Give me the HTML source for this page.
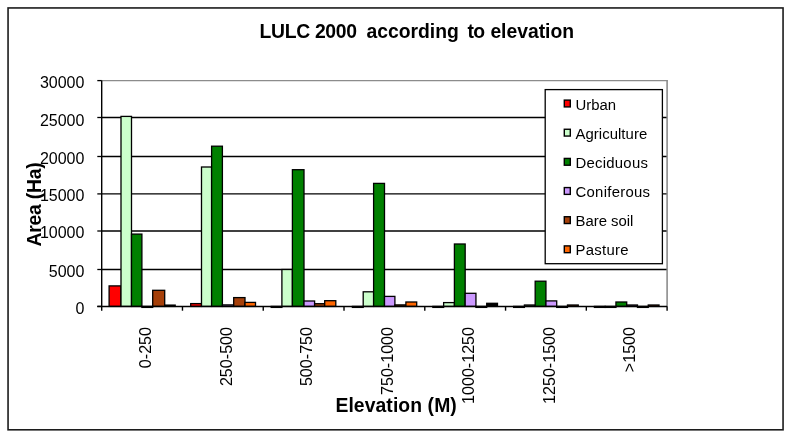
<!DOCTYPE html>
<html><head><meta charset="utf-8"><title>LULC 2000 according to elevation</title>
<style>
html,body{margin:0;padding:0;background:#fff;}
svg text{font-family:"Liberation Sans",Arial,Helvetica,sans-serif;fill:#000;}
.t{font-size:16px;}
.x{font-size:16.1px;}
.l{font-size:14.9px;}
.b{font-size:19.35px;font-weight:bold;}
</style></head><body>
<svg width="791" height="438" viewBox="0 0 791 438" style="display:block">
<rect x="0" y="0" width="791" height="438" fill="#fff"/>
<rect x="8.05" y="7.95" width="775" height="421.85" fill="#fff" stroke="#1c1c1c" stroke-width="1.6"/>
<line x1="101.7" x2="667.9" y1="80.69999999999999" y2="80.69999999999999" stroke="#8c8c8c" stroke-width="1.2"/>
<line x1="667.1" x2="667.1" y1="80.6" y2="307.09999999999997" stroke="#8c8c8c" stroke-width="1.6"/>
<line x1="101.7" x2="666.5" y1="269.50" y2="269.50" stroke="#000" stroke-width="1.35"/>
<line x1="101.7" x2="666.5" y1="231.00" y2="231.00" stroke="#000" stroke-width="1.35"/>
<line x1="101.7" x2="666.5" y1="193.90" y2="193.90" stroke="#000" stroke-width="1.35"/>
<line x1="101.7" x2="666.5" y1="156.50" y2="156.50" stroke="#000" stroke-width="1.35"/>
<line x1="101.7" x2="666.5" y1="117.50" y2="117.50" stroke="#000" stroke-width="1.35"/>
<rect x="109.10" y="285.90" width="11.90" height="20.50" fill="#ff0000" stroke="#000" stroke-width="1.3"/>
<rect x="121.00" y="116.40" width="10.50" height="190.00" fill="#ccffcc" stroke="#000" stroke-width="1.3"/>
<rect x="131.50" y="234.10" width="10.40" height="72.30" fill="#008000" stroke="#000" stroke-width="1.3"/>
<rect x="141.90" y="306.40" width="10.80" height="1.00" fill="#cc99ff" stroke="#000" stroke-width="1.3"/>
<rect x="152.70" y="290.30" width="12.00" height="16.10" fill="#a6400a" stroke="#000" stroke-width="1.3"/>
<rect x="164.70" y="305.10" width="10.50" height="1.30" fill="#ff6600" stroke="#000" stroke-width="1.3"/>
<rect x="190.70" y="303.60" width="10.80" height="2.80" fill="#ff0000" stroke="#000" stroke-width="1.3"/>
<rect x="201.50" y="167.00" width="10.10" height="139.40" fill="#ccffcc" stroke="#000" stroke-width="1.3"/>
<rect x="211.60" y="146.20" width="10.80" height="160.20" fill="#008000" stroke="#000" stroke-width="1.3"/>
<rect x="222.40" y="304.90" width="11.30" height="1.50" fill="#cc99ff" stroke="#000" stroke-width="1.3"/>
<rect x="233.70" y="297.60" width="11.30" height="8.80" fill="#a6400a" stroke="#000" stroke-width="1.3"/>
<rect x="245.00" y="302.40" width="10.50" height="4.00" fill="#ff6600" stroke="#000" stroke-width="1.3"/>
<rect x="271.20" y="306.40" width="10.70" height="1.00" fill="#ff0000" stroke="#000" stroke-width="1.3"/>
<rect x="281.90" y="269.50" width="10.50" height="36.90" fill="#ccffcc" stroke="#000" stroke-width="1.3"/>
<rect x="292.40" y="169.70" width="11.60" height="136.70" fill="#008000" stroke="#000" stroke-width="1.3"/>
<rect x="304.00" y="301.00" width="10.60" height="5.40" fill="#cc99ff" stroke="#000" stroke-width="1.3"/>
<rect x="314.60" y="303.70" width="10.10" height="2.70" fill="#a6400a" stroke="#000" stroke-width="1.3"/>
<rect x="324.70" y="300.70" width="11.10" height="5.70" fill="#ff6600" stroke="#000" stroke-width="1.3"/>
<rect x="352.40" y="306.40" width="10.80" height="1.00" fill="#ff0000" stroke="#000" stroke-width="1.3"/>
<rect x="363.20" y="291.80" width="10.40" height="14.60" fill="#ccffcc" stroke="#000" stroke-width="1.3"/>
<rect x="373.60" y="183.40" width="10.90" height="123.00" fill="#008000" stroke="#000" stroke-width="1.3"/>
<rect x="384.50" y="296.40" width="10.40" height="10.00" fill="#cc99ff" stroke="#000" stroke-width="1.3"/>
<rect x="394.90" y="304.90" width="11.00" height="1.50" fill="#a6400a" stroke="#000" stroke-width="1.3"/>
<rect x="405.90" y="302.00" width="10.80" height="4.40" fill="#ff6600" stroke="#000" stroke-width="1.3"/>
<rect x="432.86" y="306.40" width="10.77" height="1.00" fill="#ff0000" stroke="#000" stroke-width="1.3"/>
<rect x="443.63" y="302.60" width="10.77" height="3.80" fill="#ccffcc" stroke="#000" stroke-width="1.3"/>
<rect x="454.40" y="244.00" width="10.77" height="62.40" fill="#008000" stroke="#000" stroke-width="1.3"/>
<rect x="465.17" y="293.30" width="10.77" height="13.10" fill="#cc99ff" stroke="#000" stroke-width="1.3"/>
<rect x="475.94" y="306.40" width="10.77" height="1.00" fill="#a6400a" stroke="#000" stroke-width="1.3"/>
<rect x="486.71" y="303.30" width="10.77" height="3.10" fill="#000" stroke="#000" stroke-width="1.3"/>
<rect x="513.63" y="306.40" width="10.77" height="1.00" fill="#ff0000" stroke="#000" stroke-width="1.3"/>
<rect x="524.40" y="305.00" width="10.77" height="1.40" fill="#ccffcc" stroke="#000" stroke-width="1.3"/>
<rect x="535.17" y="281.20" width="10.77" height="25.20" fill="#008000" stroke="#000" stroke-width="1.3"/>
<rect x="545.94" y="300.90" width="10.77" height="5.50" fill="#cc99ff" stroke="#000" stroke-width="1.3"/>
<rect x="556.71" y="306.40" width="10.77" height="1.00" fill="#a6400a" stroke="#000" stroke-width="1.3"/>
<rect x="567.48" y="305.00" width="10.77" height="1.40" fill="#ff6600" stroke="#000" stroke-width="1.3"/>
<rect x="594.41" y="306.40" width="10.77" height="1.00" fill="#ff0000" stroke="#000" stroke-width="1.3"/>
<rect x="605.18" y="306.40" width="10.77" height="1.00" fill="#ccffcc" stroke="#000" stroke-width="1.3"/>
<rect x="615.94" y="302.00" width="10.77" height="4.40" fill="#008000" stroke="#000" stroke-width="1.3"/>
<rect x="626.71" y="305.00" width="10.77" height="1.40" fill="#cc99ff" stroke="#000" stroke-width="1.3"/>
<rect x="637.48" y="306.40" width="10.77" height="1.00" fill="#a6400a" stroke="#000" stroke-width="1.3"/>
<rect x="648.25" y="305.00" width="10.77" height="1.40" fill="#ff6600" stroke="#000" stroke-width="1.3"/>
<line x1="101.7" x2="101.7" y1="80.6" y2="310.7" stroke="#000" stroke-width="1.4"/>
<line x1="97.3" x2="667.1" y1="306.4" y2="306.4" stroke="#000" stroke-width="1.5"/>
<line x1="97.3" x2="101.7" y1="306.40" y2="306.40" stroke="#000" stroke-width="1.3"/>
<text x="84.4" y="314.10" text-anchor="end" class="t">0</text>
<line x1="97.3" x2="101.7" y1="269.50" y2="269.50" stroke="#000" stroke-width="1.3"/>
<text x="84.4" y="277.20" text-anchor="end" class="t">5000</text>
<line x1="97.3" x2="101.7" y1="231.00" y2="231.00" stroke="#000" stroke-width="1.3"/>
<text x="84.4" y="238.10" text-anchor="end" class="t">10000</text>
<line x1="97.3" x2="101.7" y1="193.90" y2="193.90" stroke="#000" stroke-width="1.3"/>
<text x="84.4" y="200.80" text-anchor="end" class="t">15000</text>
<line x1="97.3" x2="101.7" y1="156.50" y2="156.50" stroke="#000" stroke-width="1.3"/>
<text x="84.4" y="163.50" text-anchor="end" class="t">20000</text>
<line x1="97.3" x2="101.7" y1="117.50" y2="117.50" stroke="#000" stroke-width="1.3"/>
<text x="84.4" y="125.80" text-anchor="end" class="t">25000</text>
<line x1="97.3" x2="101.7" y1="80.60" y2="80.60" stroke="#000" stroke-width="1.3"/>
<text x="84.4" y="88.30" text-anchor="end" class="t">30000</text>
<line x1="182.47" x2="182.47" y1="306.4" y2="310.7" stroke="#000" stroke-width="1.4"/>
<line x1="263.24" x2="263.24" y1="306.4" y2="310.7" stroke="#000" stroke-width="1.4"/>
<line x1="344.01" x2="344.01" y1="306.4" y2="310.7" stroke="#000" stroke-width="1.4"/>
<line x1="424.79" x2="424.79" y1="306.4" y2="310.7" stroke="#000" stroke-width="1.4"/>
<line x1="505.56" x2="505.56" y1="306.4" y2="310.7" stroke="#000" stroke-width="1.4"/>
<line x1="586.33" x2="586.33" y1="306.4" y2="310.7" stroke="#000" stroke-width="1.4"/>
<line x1="667.10" x2="667.10" y1="306.4" y2="310.7" stroke="#000" stroke-width="1.4"/>
<text transform="translate(150.79,327) rotate(-90)" text-anchor="end" class="x">0-250</text>
<text transform="translate(231.56,327) rotate(-90)" text-anchor="end" class="x">250-500</text>
<text transform="translate(312.33,327) rotate(-90)" text-anchor="end" class="x">500-750</text>
<text transform="translate(393.10,327) rotate(-90)" text-anchor="end" class="x">750-1000</text>
<text transform="translate(473.87,327) rotate(-90)" text-anchor="end" class="x">1000-1250</text>
<text transform="translate(554.64,327) rotate(-90)" text-anchor="end" class="x">1250-1500</text>
<text transform="translate(635.41,327) rotate(-90)" text-anchor="end" class="x">&gt;1500</text>
<rect x="545.2" y="89.6" width="117.2" height="174.1" fill="#fff" stroke="#000" stroke-width="1.3"/>
<rect x="564.3" y="100.11" width="6" height="6.8" fill="#ff0000" stroke="#000" stroke-width="1.4"/>
<text x="575.5" y="109.71" class="l" textLength="40.6" lengthAdjust="spacing">Urban</text>
<rect x="564.3" y="129.26" width="6" height="6.8" fill="#ccffcc" stroke="#000" stroke-width="1.4"/>
<text x="575.5" y="138.72" class="l" textLength="71.7" lengthAdjust="spacing">Agriculture</text>
<rect x="564.3" y="158.42" width="6" height="6.8" fill="#008000" stroke="#000" stroke-width="1.4"/>
<text x="575.5" y="167.74" class="l" textLength="72.4" lengthAdjust="spacing">Deciduous</text>
<rect x="564.3" y="187.58" width="6" height="6.8" fill="#cc99ff" stroke="#000" stroke-width="1.4"/>
<text x="575.5" y="196.76" class="l" textLength="74.5" lengthAdjust="spacing">Coniferous</text>
<rect x="564.3" y="216.73" width="6" height="6.8" fill="#a6400a" stroke="#000" stroke-width="1.4"/>
<text x="575.5" y="225.77" class="l" textLength="57.9" lengthAdjust="spacing">Bare soil</text>
<rect x="564.3" y="245.89" width="6" height="6.8" fill="#ff6600" stroke="#000" stroke-width="1.4"/>
<text x="575.5" y="254.79" class="l" textLength="53.0" lengthAdjust="spacing">Pasture</text>
<text y="37.6" class="b"><tspan x="259.57" textLength="97.36" lengthAdjust="spacing">LULC 2000</tspan> <tspan x="366.45" textLength="92.33" lengthAdjust="spacing">according</tspan> <tspan x="467.47" textLength="17.49" lengthAdjust="spacing">to</tspan> <tspan x="490.4" textLength="83.59" lengthAdjust="spacing">elevation</tspan></text>
<text x="396.1" y="412.2" text-anchor="middle" class="b" textLength="121.4" lengthAdjust="spacing">Elevation (M)</text>
<text transform="translate(41.1,204.4) rotate(-90)" text-anchor="middle" class="b" textLength="84.2" lengthAdjust="spacing">Area (Ha)</text>
</svg>
</body></html>
